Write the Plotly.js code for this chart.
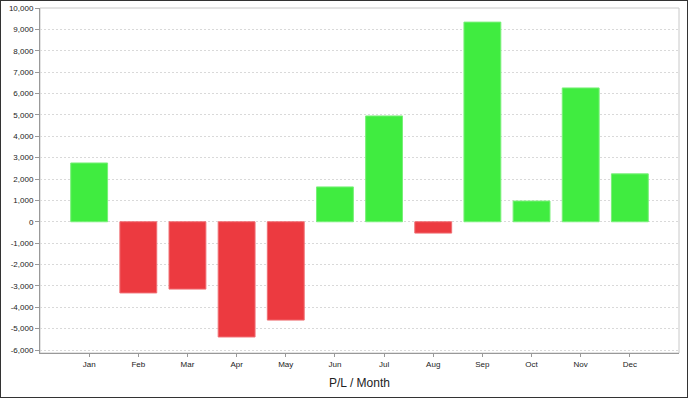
<!DOCTYPE html>
<html>
<head>
<meta charset="utf-8">
<script src="https://cdn.plot.ly/plotly-3.0.1.min.js"></script>
<style>
html,body{margin:0;padding:0;background:#fff;}
#chart{width:686px;height:396px;border:1px solid #333;}
</style>
</head>
<body>
<div id="chart"></div>
<script>
var months = ['Jan','Feb','Mar','Apr','May','Jun','Jul','Aug','Sep','Oct','Nov','Dec'];
var profitLoss = [2750, -3330, -3150, -5390, -4600, 1630, 4950, -530, 9340, 970, 6260, 2240];
var yTickVals = [-6000,-5000,-4000,-3000,-2000,-1000,0,1000,2000,3000,4000,5000,6000,7000,8000,9000,10000];
var yTickLabels = ['-6,000','-5,000','-4,000','-3,000','-2,000','-1,000','0','1,000','2,000','3,000','4,000','5,000','6,000','7,000','8,000','9,000','10,000'];
var xTitle = 'P/L / Month';

var green = 'rgb(64,236,64)';
var red = 'rgb(236,58,64)';
var barColors = profitLoss.map(function(v){ return v >= 0 ? green : red; });
var lineColors = profitLoss.map(function(v){ return v >= 0 ? 'rgba(120,240,120,1)' : 'rgba(240,110,115,1)'; });

var trace = {
  type: 'bar',
  x: months,
  y: profitLoss,
  width: 0.75,
  marker: {color: barColors, line: {color: lineColors, width: 1}},
  hoverinfo: 'x+y'
};

var layout = {
  width: 686,
  height: 396,
  margin: {l: 39, r: 8, t: 7, b: 44, pad: 0},
  paper_bgcolor: '#fff',
  plot_bgcolor: '#fff',
  showlegend: false,
  font: {family: 'Liberation Sans, Arial, sans-serif', color: '#222', size: 8},
  xaxis: {
    type: 'category',
    range: [-1, 12],
    showgrid: false,
    showline: true,
    linecolor: '#999',
    linewidth: 1,
    ticks: 'outside',
    ticklen: 3,
    tickcolor: '#999',
    tickfont: {size: 8, color: '#222'},
    title: {text: xTitle, font: {size: 12, color: '#222'}, standoff: 11},
    fixedrange: true
  },
  yaxis: {
    range: [-6140, 10000],
    tickmode: 'array',
    tickvals: yTickVals,
    ticktext: yTickLabels,
    showgrid: true,
    gridcolor: '#d9d9d9',
    griddash: '2px,2px',
    zeroline: false,
    showline: true,
    linecolor: '#999',
    linewidth: 1,
    ticks: 'outside',
    ticklen: 4,
    tickcolor: '#999',
    tickfont: {size: 8, color: '#222'},
    fixedrange: true
  },
  shapes: [{
    type: 'rect', xref: 'paper', yref: 'paper', x0: 0, x1: 1, y0: 0, y1: 1,
    line: {color: '#c8c8c8', width: 1}, layer: 'below'
  }]
};

Plotly.newPlot('chart', [trace], layout, {displayModeBar: false, staticPlot: true});
</script>
</body>
</html>
